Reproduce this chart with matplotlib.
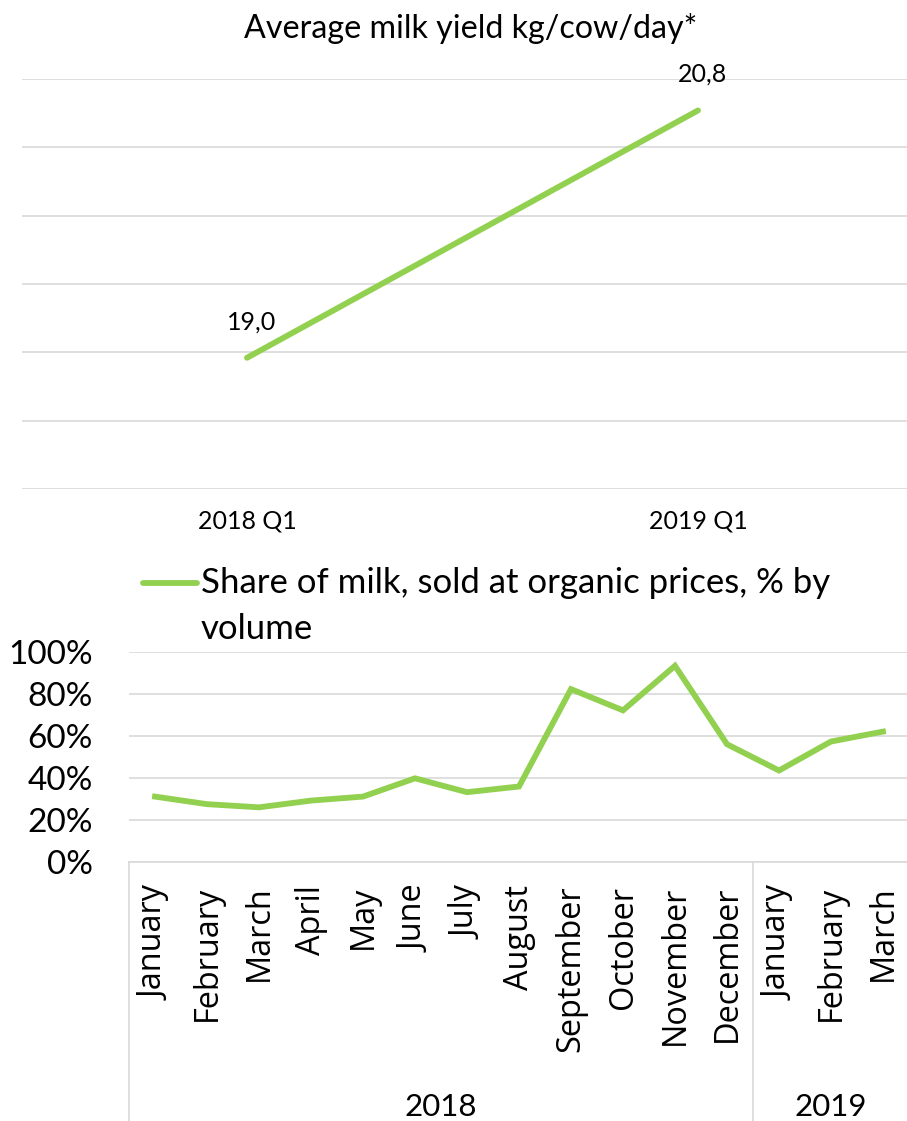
import matplotlib
matplotlib.use('Agg')
import matplotlib.pyplot as plt
import matplotlib.transforms as mtransforms
from matplotlib.lines import Line2D
import numpy as np

# ---------------- data ----------------
quarters = ['2018 Q1', '2019 Q1']
milk_yield = [18.96, 20.77]

months = ['January', 'February', 'March', 'April', 'May', 'June', 'July',
          'August', 'September', 'October', 'November', 'December',
          'January', 'February', 'March']
years = ['2018', '2019']
year_month_counts = [12, 3]
organic_share = [31.1, 27.5, 26.0, 29.2, 31.1, 39.8, 33.2, 35.9,
                 82.2, 72.1, 93.3, 56.0, 43.5, 57.3, 62.0]

title_top = 'Average milk yield kg/cow/day*'
legend_line1 = 'Share of milk, sold at organic prices, % by'
legend_line2 = 'volume'

# ---------------- style ----------------
GREEN = '#92D050'
GRID = '#D9D9D9'
TXT = '#000000'
FONT = ['Lato', 'DejaVu Sans']
MFONT = ['Open Sans', 'DejaVu Sans']
plt.rcParams['font.family'] = FONT

W, H = 907, 1121
fig = plt.figure(figsize=(W / 100, H / 100), dpi=100)

# ---------------- top chart ----------------
ax1 = fig.add_axes([21.5 / W, 1 - 489 / H, 902 / W, 410 / H])
x1 = np.arange(len(quarters))
ax1.plot(x1, milk_yield, color=GREEN, lw=4.2, solid_capstyle='round', zorder=3)
ax1.set_xlim(-0.5, len(quarters) - 0.5)
ax1.set_ylim(18, 21)
ax1.set_yticks(np.arange(18, 21.01, 0.5))
ax1.yaxis.grid(True, color=GRID, lw=1.2)
ax1.set_axisbelow(True)
ax1.tick_params(axis='y', length=0, labelleft=False)
ax1.set_xticks(x1)
ax1.set_xticklabels(quarters, fontsize=18, color=TXT)
ax1.tick_params(axis='x', length=0, pad=15)
for s in ax1.spines.values():
    s.set_visible(False)
for xi, v in zip(x1, milk_yield):
    ax1.annotate(f'{v:.1f}'.replace('.', ','), (xi, v), xytext=(3, 26),
                 textcoords='offset points', ha='center', va='center',
                 fontsize=18, color=TXT)

fig.text(471 / W, 1 - 28 / H, title_top, ha='center', va='center',
         fontsize=23.2, color=TXT)

# ---------------- bottom chart ----------------
ax2 = fig.add_axes([129 / W, 1 - 862 / H, 780 / W, 210.3 / H])
x2 = np.arange(len(months))
ax2.plot(x2, organic_share, color=GREEN, lw=4.2, solid_joinstyle='miter', zorder=3)
ax2.set_xlim(-0.5, len(months) - 0.5)
ax2.set_ylim(0, 100)
ax2.set_yticks(np.arange(0, 101, 20))
ax2.set_yticklabels([f'{v}%' for v in range(0, 101, 20)], fontsize=24, color=TXT)
ax2.yaxis.grid(True, color=GRID, lw=1.2)
ax2.set_axisbelow(True)
ax2.tick_params(axis='y', length=0, pad=26)
ax2.set_xticks(x2)
ax2.set_xticklabels(months, rotation=90, fontsize=23.4, color=TXT, family=MFONT)
ax2.tick_params(axis='x', length=0, pad=17)
for k, s in ax2.spines.items():
    s.set_visible(k == 'bottom')
ax2.spines['bottom'].set_color(GRID)
ax2.spines['bottom'].set_linewidth(1.2)

# group separators and year labels
bounds = np.concatenate([[0], np.cumsum(year_month_counts)]) - 0.5
sep_tr = mtransforms.blended_transform_factory(ax2.transData, ax2.transAxes)
for b in bounds:
    ax2.plot([b, b], [0, -1.4], transform=sep_tr, color=GRID, lw=1.2, clip_on=False)
yr_tr = mtransforms.blended_transform_factory(ax2.transData, fig.transFigure)
for i, yr in enumerate(years):
    c = (bounds[i] + bounds[i + 1]) / 2
    ax2.text(c, 1 - 1107 / H, yr, transform=yr_tr, ha='center', va='center',
             fontsize=22.5, color=TXT)

# legend (manual, line aligned with first text line)
fig.add_artist(Line2D([143 / W, 197 / W], [1 - 583 / H] * 2, transform=fig.transFigure,
                      color=GREEN, lw=4.2, solid_capstyle='round'))
fig.text(201 / W, 1 - 583 / H, legend_line1, ha='left', va='center', fontsize=25, color=TXT)
fig.text(201 / W, 1 - 629 / H, legend_line2, ha='left', va='center', fontsize=25, color=TXT)

fig.savefig('out.png', dpi=100, facecolor='white')
